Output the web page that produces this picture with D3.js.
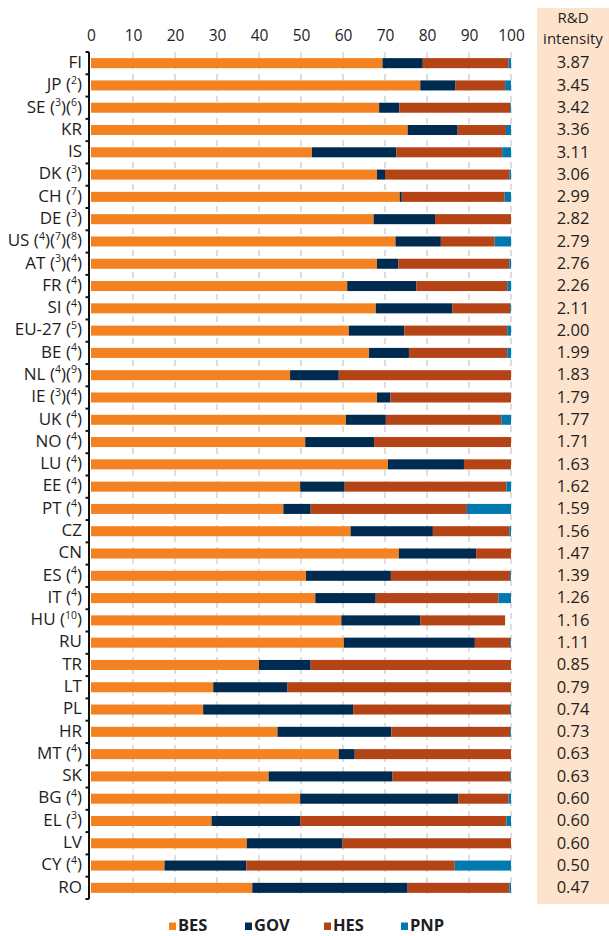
<!DOCTYPE html>
<html><head><meta charset="utf-8">
<script src="https://cdn.jsdelivr.net/npm/d3@7"></script>
<style>body{margin:0;background:#fff}svg{display:block}</style>
</head><body>
<script>
const countries = ["FI","JP","SE","KR","IS","DK","CH","DE","US","AT","FR","SI","EU-27","BE","NL","IE","UK","NO","LU","EE","PT","CZ","CN","ES","IT","HU","RU","TR","LT","PL","HR","MT","SK","BG","EL","LV","CY","RO"];
const notes = [[],["2"],["3","6"],[],[],["3"],["7"],["3"],["4","7","8"],["3","4"],["4"],["4"],["5"],["4"],["4","9"],["3","4"],["4"],["4"],["4"],["4"],["4"],[],[],["4"],["4"],["10"],[],[],[],[],[],["4"],[],["4"],["3"],[],["4"],[]];
const BES = [69.4,78.4,68.6,75.4,52.6,68.1,73.5,67.3,72.5,68.1,61.0,67.8,61.4,66.2,47.4,68.1,60.7,51.0,70.7,49.8,45.8,61.8,73.3,51.2,53.4,59.6,60.2,40.0,29.1,26.7,44.4,59.0,42.3,49.8,28.7,37.1,17.5,38.4];
const GOV = [9.6,8.4,4.8,11.9,20.1,1.9,0.5,14.6,10.8,5.1,16.5,18.2,13.2,9.5,11.6,3.2,9.5,16.4,18.1,10.6,6.5,19.6,18.4,20.2,14.4,18.8,31.2,12.3,17.7,35.7,27.1,3.8,29.5,37.7,21.1,22.8,19.5,37.0];
const HES = [20.4,11.8,26.4,11.5,25.2,29.6,24.5,18.1,12.8,26.4,21.6,13.8,24.5,23.4,41.0,28.7,27.5,32.6,11.2,38.5,37.2,18.2,8.3,28.4,29.2,20.2,8.4,47.7,53.2,37.4,28.3,37.2,28.0,11.9,49.1,40.1,49.6,24.2];
const PNP = [0.6,1.4,0.2,1.2,2.1,0.4,1.5,0,3.9,0.4,0.9,0.2,0.9,0.9,0,0,2.3,0,0,1.1,10.5,0.4,0,0.2,3.0,0,0.2,0,0,0.2,0.2,0,0.2,0.6,1.1,0,13.4,0.4];
const intensity = ["3.87","3.45","3.42","3.36","3.11","3.06","2.99","2.82","2.79","2.76","2.26","2.11","2.00","1.99","1.83","1.79","1.77","1.71","1.63","1.62","1.59","1.56","1.47","1.39","1.26","1.16","1.11","0.85","0.79","0.74","0.73","0.63","0.63","0.60","0.60","0.60","0.50","0.47"];
const xTicks = [0,10,20,30,40,50,60,70,80,90,100];
const seriesNames = ["BES","GOV","HES","PNP"];
const colors = ["#f58220","#002b50","#b44316","#0079ae"];

const W = 609, H = 936;
const font = "'Open Sans', 'Noto Sans', sans-serif";
const ink = "#1e1e1e";
const svg = d3.select("body").append("svg").attr("width", W).attr("height", H)
  .style("font-family", font);

const x = d3.scaleLinear().domain([0,100]).range([91,511]);
const y = d3.scaleBand().domain(countries).range([52, 899]).paddingInner(0.55).paddingOuter(0.275);

// R&D box
svg.append("rect").attr("x",537).attr("y",8).attr("width",72).attr("height",896).attr("fill","#fde3cb");
svg.append("text").attr("x",573).attr("y",22.5).attr("text-anchor","middle").attr("font-size",15).attr("fill",ink).text("R&D");
svg.append("text").attr("x",573).attr("y",43.5).attr("text-anchor","middle").attr("font-size",15).attr("fill",ink).text("intensity");

// gridlines
svg.append("g").selectAll("line").data(xTicks.slice(1)).join("line")
  .attr("x1", d=>x(d)).attr("x2", d=>x(d)).attr("y1", 52).attr("y2", 899)
  .attr("stroke","#d0d0d0").attr("stroke-width",1.4).attr("stroke-dasharray","6,5");

// top axis
const xAxis = svg.append("g").attr("transform","translate(0,41)")
  .call(d3.axisTop(x).tickValues(xTicks).tickSize(0).tickPadding(0));
xAxis.select(".domain").remove();
xAxis.selectAll("text").attr("font-size",15.5).attr("fill",ink).style("font-family",font);

// stacked bars
const table = countries.map((c,i)=>({c, BES:BES[i], GOV:GOV[i], HES:HES[i], PNP:PNP[i]}));
const stack = d3.stack().keys(seriesNames)(table);
svg.append("g").selectAll("g").data(stack).join("g").attr("fill",(d,i)=>colors[i])
  .selectAll("rect").data(d=>d).join("rect")
  .attr("x", d=>x(d[0])).attr("width", d=>Math.max(0, x(d[1])-x(d[0])))
  .attr("y", d=>y(d.data.c)).attr("height", y.bandwidth());

// left axis line with boundary ticks
const step = y.step();
const y0 = y.range()[0];
svg.append("line").attr("x1",89).attr("x2",89).attr("y1",y0).attr("y2",899).attr("stroke","#111").attr("stroke-width",2);
const bounds = d3.range(countries.length+1).map(i=>y0 + i*step);
svg.append("g").selectAll("line").data(bounds).join("line")
  .attr("x1",85.5).attr("x2",89).attr("y1",d=>d).attr("y2",d=>d).attr("stroke","#111").attr("stroke-width",2);

// country labels
const lab = svg.append("g").selectAll("text").data(countries).join("text")
  .attr("x",82).attr("y",c=>y(c)+y.bandwidth()/2+4.8).attr("text-anchor","end")
  .attr("font-size",17).attr("fill",ink);
lab.each(function(c,i){
  const t = d3.select(this);
  t.append("tspan").text(c);
  notes[i].forEach((n,k)=>{
    t.append("tspan").text(k===0?" (":"(");
    t.append("tspan").attr("font-size",10.5).attr("dy",-6.5).text(n);
    t.append("tspan").attr("dy",6.5).text(")");
  });
});

// intensity values
svg.append("g").selectAll("text").data(intensity).join("text")
  .attr("x",573).attr("y",(d,i)=>y(countries[i])+y.bandwidth()/2+5.3).attr("text-anchor","middle")
  .attr("font-size",16.5).attr("fill",ink).text(d=>d);

// legend
const legX = [169,245,324,401];
const leg = svg.append("g").selectAll("g").data(seriesNames).join("g")
  .attr("transform",(d,i)=>`translate(${legX[i]},0)`);
leg.append("rect").attr("x",0).attr("y",922.5).attr("width",7).attr("height",7.5).attr("fill",(d,i)=>colors[i]);
leg.append("text").attr("x",9).attr("y",931).attr("font-size",16.5).attr("font-weight","bold").attr("fill",ink).text(d=>d);
</script>
</body></html>
